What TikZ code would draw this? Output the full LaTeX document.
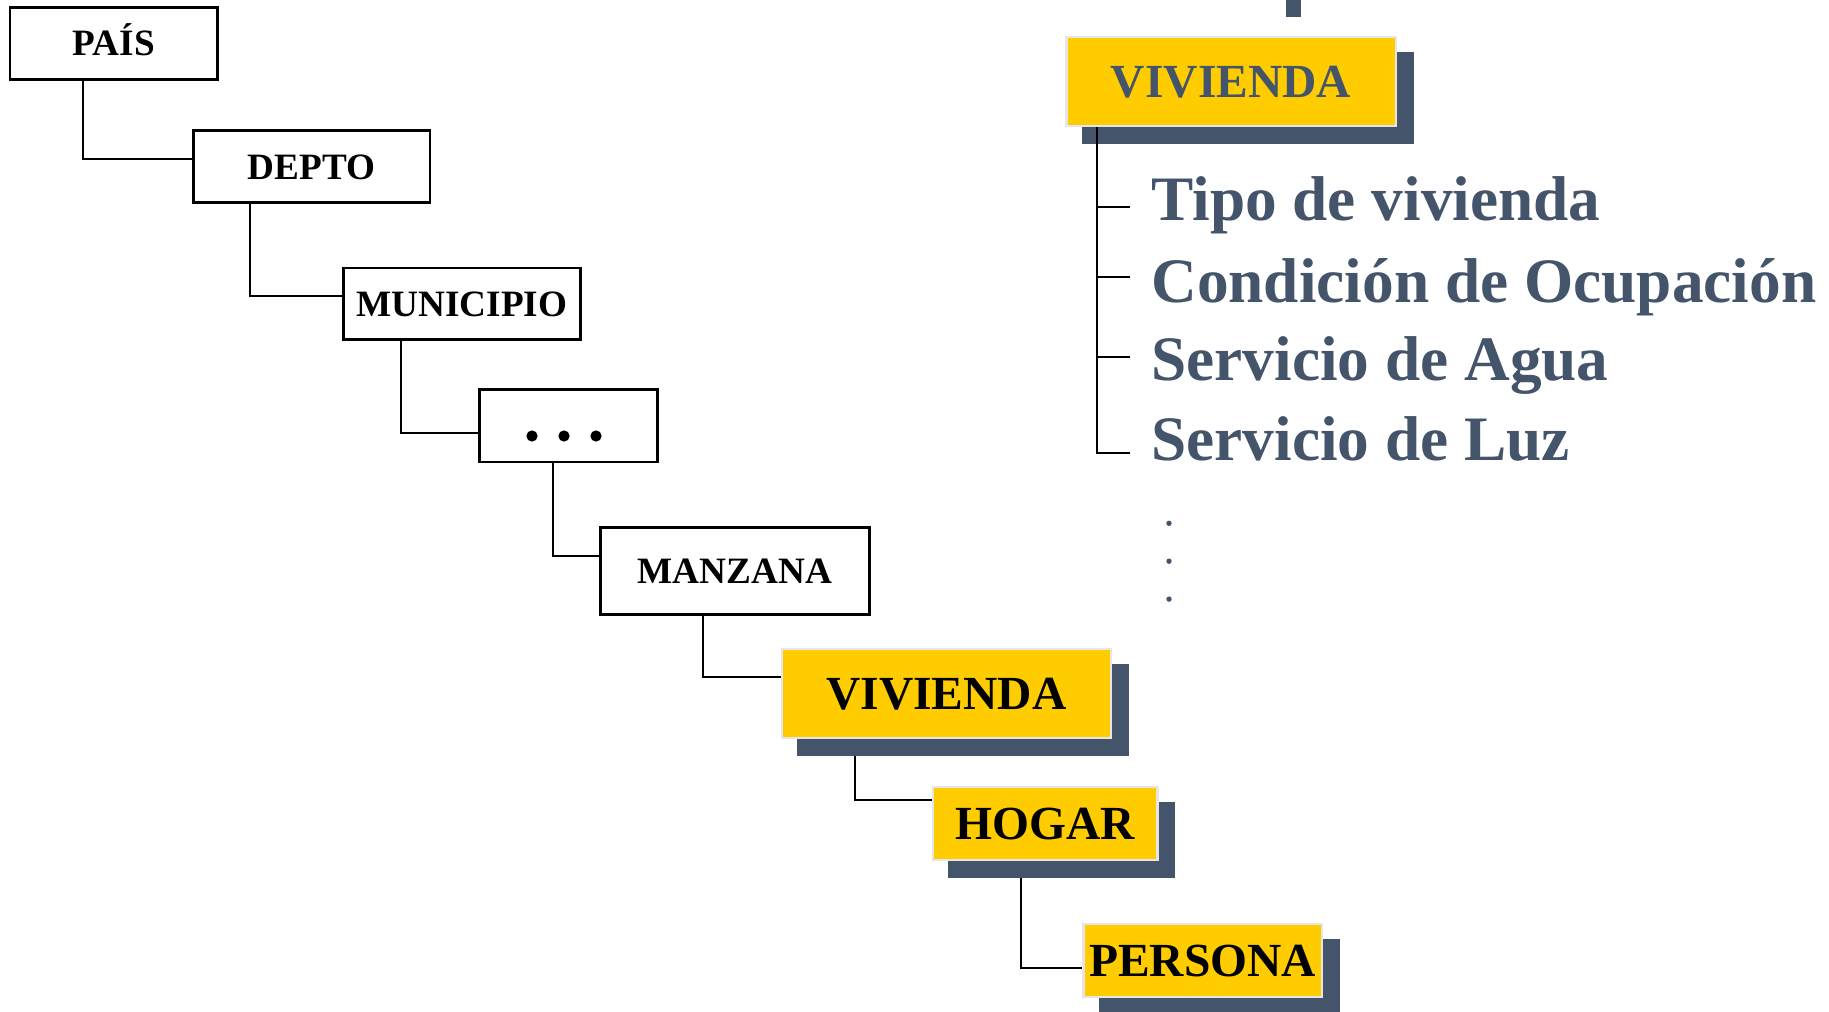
\documentclass[tikz,border=0pt]{standalone}
\usepackage{fontspec}
\setmainfont{Liberation Serif}
\usetikzlibrary{calc,backgrounds}
\definecolor{slate}{HTML}{44546A}
\definecolor{gold}{HTML}{FFCC00}
\definecolor{rim}{HTML}{E6E6E6}
\begin{document}
\begin{tikzpicture}[x=0.5pt,y=-0.5pt,
  dims/.style 2 args={minimum width=#1*0.5pt, minimum height=#2*0.5pt},
  plainbox/.style={draw=black, line width=1.35pt, fill=white, inner sep=0pt,
    font=\fontsize{18.6}{20}\selectfont\bfseries, text height=12.3pt, text depth=0pt},
  hlbox/.style={draw=rim, line width=1.25pt, fill=gold, inner sep=0pt,
    font=\fontsize{23.75}{26}\selectfont\bfseries, text height=15.7pt, text depth=0pt,
    preaction={fill=slate, draw=slate, transform canvas={shift={(16.5,16.5)}}}},
  link/.style={line width=1pt, draw=black},
  itemtext/.style={anchor=base west, inner sep=0pt, text=slate,
    font=\fontsize{31.65}{34}\selectfont\bfseries}]
\useasboundingbox (0,0) rectangle (1829,1011);

% top shadow bar (clipped)
\fill[slate] (1286,0) rectangle (1301,17);

% plain boxes
\node[plainbox, dims={207.6}{72}]   (pais)  at (113.9,43.4)  {PAÍS};
\node[plainbox, dims={236.8}{72}]   (depto) at (311.6,166.7) {DEPTO};
\node[plainbox, dims={237}{71.3}]   (muni)  at (461.9,303.7) {MUNICIPIO};
\node[plainbox, dims={178}{72.3}]   (dots)  at (568.7,425.8) {};
\node[plainbox, dims={268.7}{86.6}] (manz)  at (734.9,571)   {MANZANA};

\fill ([shift={(-36.7,10.2)}]dots.center) circle[radius=5.6];
\fill ([shift={(-4.7,10.2)}]dots.center) circle[radius=5.6];
\fill ([shift={(27.3,10.2)}]dots.center) circle[radius=5.6];

% highlighted boxes
\node[hlbox, dims={328.8}{88.8}] (viv)   at (946.4,693.4)  {VIVIENDA};
\node[hlbox, dims={224.2}{72.9}] (hogar) at (1045.2,823.3) {HOGAR};
\node[hlbox, dims={238.5}{72.8}] (pers)  at (1202.5,960.4) {PERSONA};
\node[hlbox, dims={329.5}{88.5}, text=slate] (viv2) at (1231,81.5) {VIVIENDA};

% connectors of the hierarchy
\begin{pgfonlayer}{background}
\fill[white] (0,0) rectangle (1829,1011);
\draw[link] ([shift={(74.4,0)}]pais.south west)   |- ([shift={(0,-7.4)}]depto.west);
\draw[link] ([shift={(57.8,0)}]depto.south west)  |- ([shift={(0,-8)}]muni.west);
\draw[link] ([shift={(59.1,0)}]muni.south west)   |- ([shift={(0,7.5)}]dots.west);
\draw[link] ([shift={(74.3,0)}]dots.south west)   |- ([shift={(0,-15.2)}]manz.west);
\draw[link] ([shift={(104.15,0)}]manz.south west) |- ([shift={(0,-16.1)}]viv.west);
\draw[link] ([shift={(74,0)}]viv.south west)      |- ([shift={(0,-23.5)}]hogar.west);
\draw[link] ([shift={(88.9,0)}]hogar.south west)  |- ([shift={(0,7.1)}]pers.west);
\end{pgfonlayer}

% attribute list
\coordinate (k1) at (1130,207);
\coordinate (k2) at (1130,277);
\coordinate (k3) at (1130,357);
\coordinate (k4) at (1130,453);
\draw[link] ([shift={(31.75,0)}]viv2.south west) coordinate (trunk) |- (k4);
\draw[link] (k1 -| trunk) -- (k1);
\draw[link] (k2 -| trunk) -- (k2);
\draw[link] (k3 -| trunk) -- (k3);

\node[itemtext] (t1) at (1151,220) {Tipo de vivienda};
\node[itemtext] (t2) at (1151,302) {Condición de Ocupación};
\node[itemtext] (t3) at (1151,380) {Servicio de Agua};
\node[itemtext] (t4) at (1151,460) {Servicio de Luz};

\fill[slate] (1169,523.3) circle[radius=2.7];
\fill[slate] (1169,561.2) circle[radius=2.7];
\fill[slate] (1169,599.1) circle[radius=2.7];
\end{tikzpicture}
\end{document}
